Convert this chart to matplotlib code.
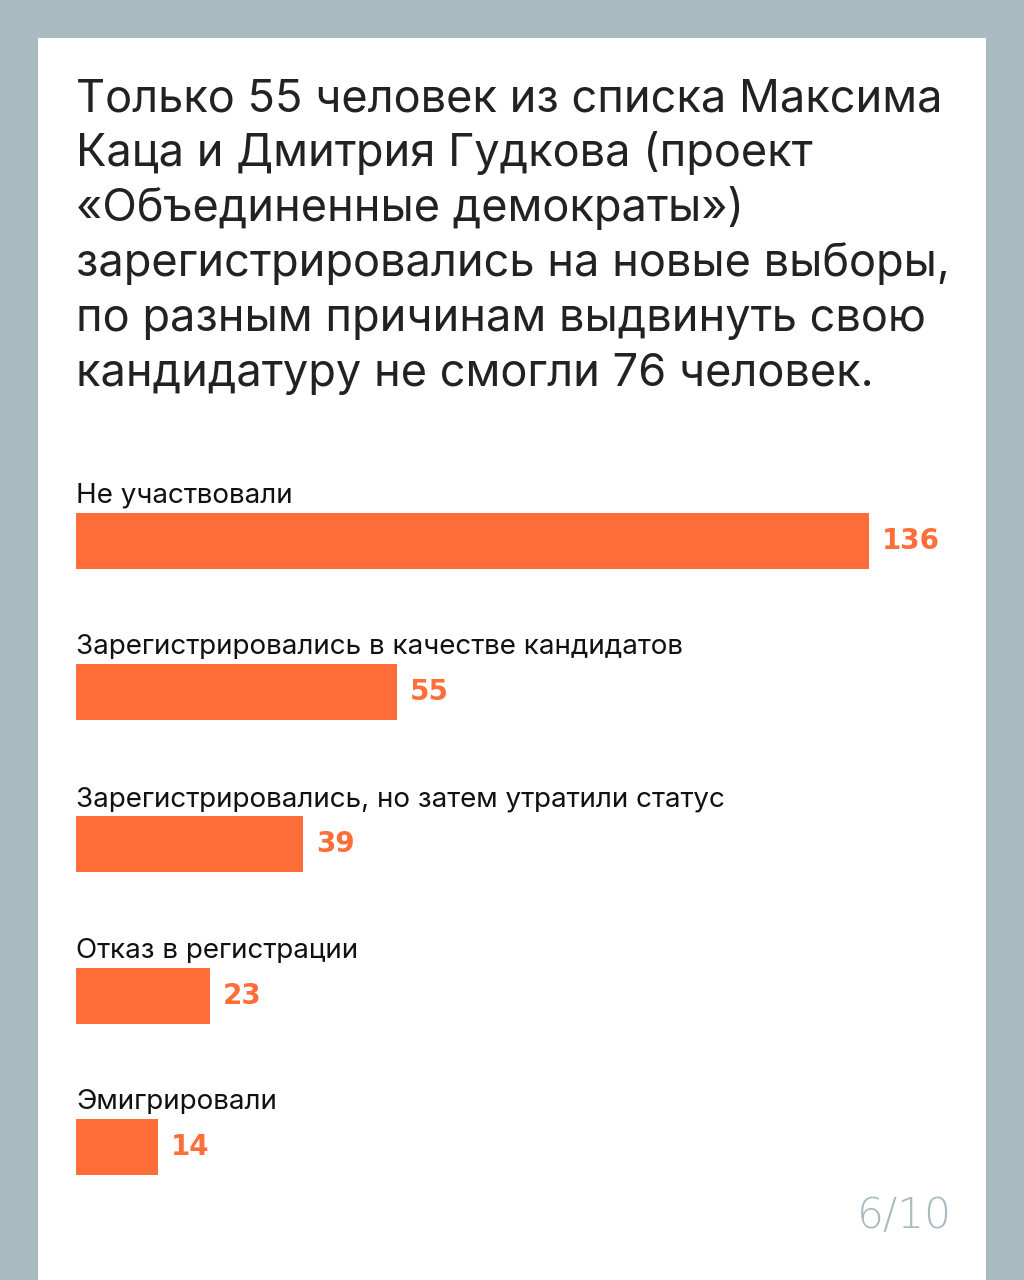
import matplotlib
matplotlib.use("Agg")
import matplotlib.pyplot as plt
from matplotlib.patches import Rectangle

categories = [
    "Не участвовали",
    "Зарегистрировались в качестве кандидатов",
    "Зарегистрировались, но затем утратили статус",
    "Отказ в регистрации",
    "Эмигрировали",
]
values = [136, 55, 39, 23, 14]

title_lines = [
    "Только 55 человек из списка Максима",
    "Каца и Дмитрия Гудкова (проект",
    "«Объединенные демократы»)",
    "зарегистрировались на новые выборы,",
    "по разным причинам выдвинуть свою",
    "кандидатуру не смогли 76 человек.",
]
page_label = "6/10"

BG = "#a9bbc0"
ORANGE = "#ff6d38"
DARK = "#222222"

W, H = 1024, 1280
fig = plt.figure(figsize=(W / 100, H / 100), dpi=100)
fig.patch.set_facecolor(BG)

# white card behind everything
fig.patches.append(Rectangle((38 / W, 0), (986 - 38) / W, 1 - 38 / H,
                             transform=fig.transFigure, facecolor="white",
                             edgecolor="none", zorder=-5))

# title, one line at a time (baseline in px)
for i, line in enumerate(title_lines):
    fig.text(76 / W, 1 - (111 + i * 55) / H, line, fontsize=32.5,
             family="Inter", color=DARK, va="baseline", ha="left")

# bar area: y pixels 465..1223, x pixels 76..869 for 0..136
ax_top, ax_bot = 465, 1223
ax = fig.add_axes([76 / W, 1 - ax_bot / H, (869 - 76) / W, (ax_bot - ax_top) / H])
ax.set_zorder(2)
ax.patch.set_alpha(0)
ax.set_xlim(0, 136)
ax.set_ylim(len(values) - 0.5, -0.5)
ax.axis("off")

bar_h = 56 / 151.6
ypos = list(range(len(values)))
ax.barh(ypos, values, height=bar_h, color=ORANGE, zorder=2)

px_y = 151.6  # px per y unit
px_x = 793 / 136
for y, v, c in zip(ypos, values, categories):
    ax.text(0, y - bar_h / 2 - 10 / px_y, c, fontsize=20, family="Inter",
            color="#111111", va="baseline", ha="left", clip_on=False)
    ax.text(v + 13 / px_x, y, str(v), fontsize=20, fontweight="bold",
            family="DejaVu Sans", color=ORANGE, va="center", ha="left",
            clip_on=False)

fig.text(952 / W, 1 - 1228 / H, page_label, fontsize=30.5, family="DejaVu Sans",
         fontweight="light", color=BG, ha="right", va="baseline")

fig.savefig("out.png", dpi=100, facecolor=fig.get_facecolor())
